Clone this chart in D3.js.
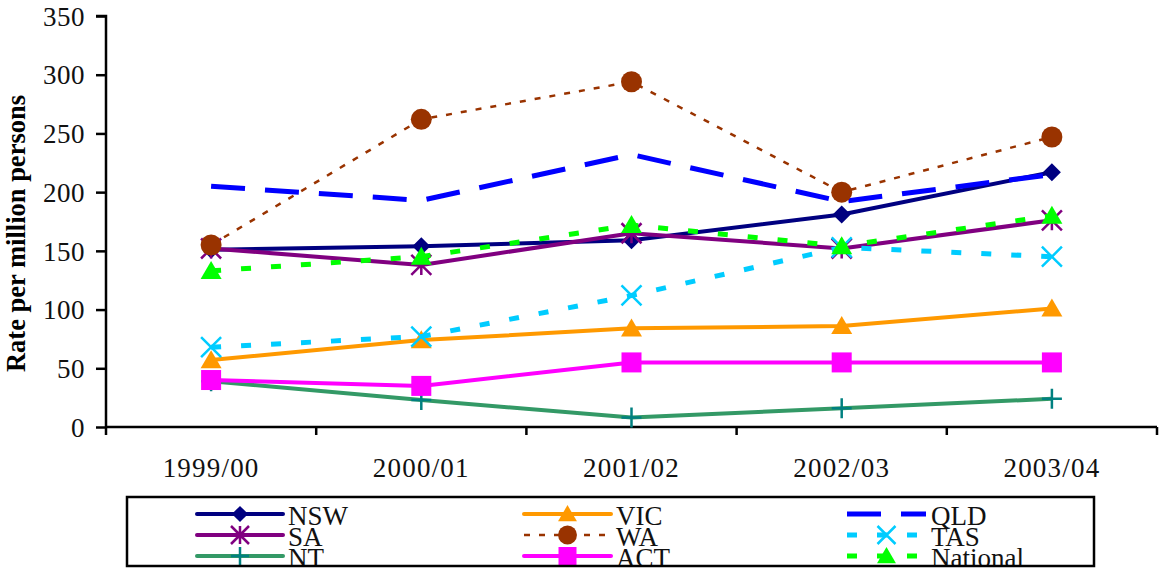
<!DOCTYPE html>
<html>
<head>
<meta charset="utf-8">
<script src="https://cdn.jsdelivr.net/npm/d3@7"></script>
<style>
  html, body { margin: 0; padding: 0; background: #fff; }
  svg { display: block; font-family: "Liberation Serif", "DejaVu Serif", serif; }
</style>
</head>
<body>
<svg id="chart" width="1160" height="568"></svg>
<script>
// ---- data ----
const categories = ["1999/00", "2000/01", "2001/02", "2002/03", "2003/04"];
const yTicks = [0, 50, 100, 150, 200, 250, 300, 350];
const seriesNames = ["NSW", "VIC", "QLD", "SA", "WA", "TAS", "NT", "ACT", "National"];
const NSW = [151, 154, 159, 181, 217];
const VIC = [57, 74, 84, 86, 101];
const QLD = [205, 193, 232, 192, 215];
const SA = [152, 138, 165, 152, 176];
const WA = [155, 262, 294, 200, 247];
const TAS = [68, 77, 112, 153, 145];
const NT = [39, 23, 8, 16, 24];
const ACT = [40, 35, 55, 55, 55];
const National = [133, 145, 172, 154, 180];
const seriesValues = [NSW, VIC, QLD, SA, WA, TAS, NT, ACT, National];

// ---- styles ----
const styles = {
  NSW:      { color: "#000080", width: 4,   dash: null,    marker: "diamond",  mcolor: "#000080" },
  VIC:      { color: "#FF9900", width: 4,   dash: null,    marker: "triangle", mcolor: "#FF9900" },
  QLD:      { color: "#0000FF", width: 5,   dash: "34,20", marker: null,       mcolor: "#0000FF" },
  SA:       { color: "#800080", width: 4,   dash: null,    marker: "asterisk", mcolor: "#800080" },
  WA:       { color: "#993300", width: 2.5, dash: "6,9",   marker: "circle",   mcolor: "#993300" },
  TAS:      { color: "#00CCFF", width: 5,   dash: "10,20", marker: "x",        mcolor: "#00CCFF" },
  NT:       { color: "#339966", width: 4,   dash: null,    marker: "plus",     mcolor: "#008080" },
  ACT:      { color: "#FF00FF", width: 4,   dash: null,    marker: "square",   mcolor: "#FF00FF" },
  National: { color: "#00FF00", width: 5,   dash: "10,20", marker: "triangle", mcolor: "#00FF00" }
};

const svg = d3.select("#chart");
const plot = { left: 106, right: 1157, top: 16, bottom: 427 };

const x = d3.scaleBand().domain(categories).range([plot.left, plot.right]);
const y = d3.scaleLinear().domain([0, 350]).range([plot.bottom, plot.top]);
const cx = c => x(c) + x.bandwidth() / 2;

// ---- marker drawing ----
function drawMarker(g, type, px, py, color, s) {
  s = s || 1;
  if (type === "diamond") {
    const r = 9 * s;
    g.append("path").attr("d", `M${px},${py - r}L${px + r},${py}L${px},${py + r}L${px - r},${py}Z`).attr("fill", color);
  } else if (type === "triangle") {
    const w = 10.5 * s, h = 18 * s;
    g.append("path").attr("d", `M${px},${py - h * 0.55}L${px + w},${py + h * 0.45}L${px - w},${py + h * 0.45}Z`).attr("fill", color);
  } else if (type === "circle") {
    g.append("circle").attr("cx", px).attr("cy", py).attr("r", 10.5 * s).attr("fill", color);
  } else if (type === "square") {
    const r = 10 * s;
    g.append("rect").attr("x", px - r).attr("y", py - r).attr("width", 2 * r).attr("height", 2 * r).attr("fill", color);
  } else if (type === "asterisk") {
    const r = 10 * s;
    g.append("path").attr("d", `M${px - r},${py - r}L${px + r},${py + r}M${px - r},${py + r}L${px + r},${py - r}M${px},${py - r}L${px},${py + r}`)
      .attr("stroke", color).attr("stroke-width", 2.5).attr("fill", "none");
  } else if (type === "x") {
    const r = 10 * s;
    g.append("path").attr("d", `M${px - r},${py - r}L${px + r},${py + r}M${px - r},${py + r}L${px + r},${py - r}`)
      .attr("stroke", color).attr("stroke-width", 2.5).attr("fill", "none");
  } else if (type === "plus") {
    const r = 10 * s;
    g.append("path").attr("d", `M${px - r},${py}L${px + r},${py}M${px},${py - r}L${px},${py + r}`)
      .attr("stroke", color).attr("stroke-width", 2.5).attr("fill", "none");
  }
}

// ---- axes ----
const yAxis = d3.axisLeft(y).tickValues(yTicks).tickSize(10).tickPadding(11).tickFormat(d3.format("d"));
const gy = svg.append("g").attr("transform", `translate(${plot.left},0)`).call(yAxis);
gy.attr("font-family", null);
gy.select(".domain").attr("stroke", "#000").attr("stroke-width", 2.5).attr("d", `M-10,${y(350)}H0V${y(0)}`);
gy.selectAll(".tick line").attr("stroke", "#000").attr("stroke-width", 2.5);
gy.selectAll(".tick text").attr("font-size", 27).attr("letter-spacing", 0.5).attr("fill", "#111").attr("dy", "0.34em");

const gx = svg.append("g").attr("transform", `translate(0,${plot.bottom})`);
gx.append("line").attr("x1", plot.left).attr("x2", plot.right).attr("y1", 0).attr("y2", 0)
  .attr("stroke", "#000").attr("stroke-width", 2.5);
const bounds = categories.map(c => x(c)).concat([x(categories[categories.length - 1]) + x.bandwidth()]);
gx.selectAll("line.tk").data(bounds).enter().append("line").attr("class", "tk")
  .attr("x1", d => d).attr("x2", d => d).attr("y1", 0).attr("y2", 8)
  .attr("stroke", "#000").attr("stroke-width", 2.5);
gx.selectAll("text").data(categories).enter().append("text")
  .attr("x", d => cx(d)).attr("y", 50).attr("text-anchor", "middle")
  .attr("font-size", 27).attr("letter-spacing", 1.2).attr("fill", "#111").text(d => d);

// y axis title
svg.append("text")
  .attr("transform", `translate(25,${(plot.top + plot.bottom) / 2 + 12}) rotate(-90)`)
  .attr("text-anchor", "middle").attr("font-size", 26.5).attr("font-weight", "bold").attr("fill", "#000")
  .text("Rate per million persons");

// ---- series ----
const line = d3.line().x((d, i) => cx(categories[i])).y(d => y(d));
seriesNames.forEach((name, si) => {
  const st = styles[name];
  const vals = seriesValues[si];
  const g = svg.append("g");
  g.append("path").attr("d", line(vals)).attr("fill", "none")
    .attr("stroke", st.color).attr("stroke-width", st.width)
    .attr("stroke-dasharray", st.dash).attr("stroke-linejoin", "round");
  if (st.marker) vals.forEach((v, i) => drawMarker(g, st.marker, cx(categories[i]), y(v), st.mcolor));
});

// ---- legend ----
const lg = { x: 127, y: 497, w: 967, h: 69 };
svg.append("clipPath").attr("id", "lgclip").append("rect")
  .attr("x", lg.x).attr("y", lg.y).attr("width", lg.w).attr("height", lg.h);
const legend = svg.append("g").attr("clip-path", "url(#lgclip)");
const colX = [197, 524, 847];
const colW = [86, 87, 79];
const rowY = [514, 535, 556];
seriesNames.forEach((name, i) => {
  const st = styles[name];
  const c = i % 3, r = Math.floor(i / 3);
  const x0 = colX[c], x1 = colX[c] + colW[c], yy = rowY[r];
  const g = legend.append("g");
  g.append("line").attr("x1", x0).attr("x2", x1).attr("y1", yy).attr("y2", yy)
    .attr("stroke", st.color).attr("stroke-width", st.width)
    .attr("stroke-dasharray", st.dash).attr("stroke-linecap", st.dash ? "butt" : "round");
  if (st.marker) drawMarker(g, st.marker, (x0 + x1) / 2, yy, st.mcolor, 0.9);
  g.append("text").attr("x", x1 + 5).attr("y", yy + 11).attr("font-size", 27).attr("fill", "#111").text(name);
});
svg.append("rect").attr("x", lg.x).attr("y", lg.y).attr("width", lg.w).attr("height", lg.h)
  .attr("fill", "none").attr("stroke", "#000").attr("stroke-width", 2.5);
</script>
</body>
</html>
